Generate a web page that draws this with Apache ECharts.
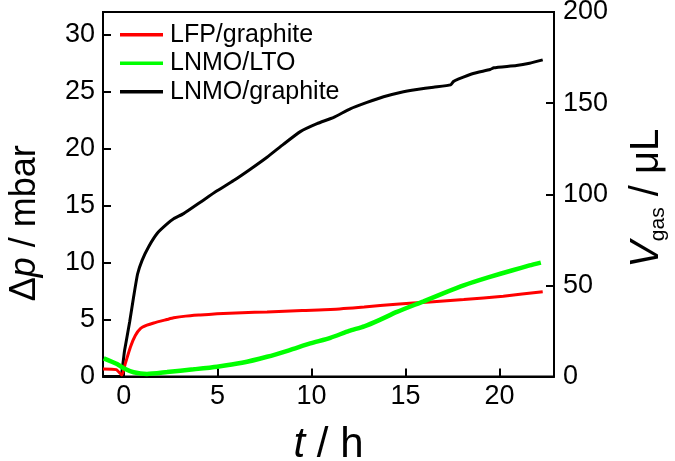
<!DOCTYPE html>
<html>
<head>
<meta charset="utf-8">
<script src="https://cdn.jsdelivr.net/npm/echarts@6/dist/echarts.min.js"></script>
<style>
  html, body { margin: 0; padding: 0; background: #fff; }
  #chart { width: 675px; height: 461px; }
</style>
</head>
<body>
<div id="chart"></div>
<script>
// ---- data ----
const seriesNames = ['LFP/graphite', 'LNMO/LTO', 'LNMO/graphite'];

const lfpTime  = [-1.1, -0.4, -0.1, 0.09, 0.36, 0.62, 0.89, 1.24, 1.6, 2.3, 2.66, 3.3, 4.08, 4.97, 6.3, 7.63, 9.5, 11.0, 12.8, 14.5, 16.3, 18.1, 20.2, 22.3];
const lfpDp    = [0.65, 0.6, 0.13, 1.15, 2.6, 3.6, 4.2, 4.5, 4.7, 5.0, 5.15, 5.3, 5.4, 5.5, 5.6, 5.67, 5.8, 5.88, 6.1, 6.35, 6.55, 6.75, 7.05, 7.45];

const ltoTime  = [-1.06, -0.35, 0, 0.53, 1.24, 2.31, 3.72, 4.97, 6.3, 7.63, 8.8, 9.93, 11.0, 12.0, 12.8, 13.6, 14.54, 15.96, 17.0, 18.09, 19.4, 20.7, 21.6, 22.2];
const ltoDp    = [1.59, 1.09, 0.72, 0.37, 0.22, 0.39, 0.63, 0.86, 1.2, 1.73, 2.3, 2.9, 3.4, 4.0, 4.4, 4.95, 5.67, 6.6, 7.3, 8.0, 8.7, 9.33, 9.75, 10.0];

const graphTime = [-1.1, -0.2, 0.05, 0.32, 0.53, 0.74, 0.98, 1.33, 1.8, 2.31, 2.66, 3.19, 4.08, 4.97, 5.85, 6.74, 7.63, 8.51, 9.4, 10.29, 11.18, 12.06, 12.95, 13.83, 14.72, 15.6, 16.49, 17.4, 17.55, 17.8, 18.6, 19.5, 19.7, 20.9, 21.6, 22.3];
const graphDp   = [0, 0, 2.3, 4.8, 7.0, 9.0, 10.2, 11.4, 12.6, 13.4, 13.85, 14.3, 15.3, 16.3, 17.2, 18.2, 19.25, 20.4, 21.5, 22.2, 22.75, 23.5, 24.06, 24.56, 24.94, 25.2, 25.4, 25.6, 25.9, 26.1, 26.6, 26.95, 27.1, 27.3, 27.5, 27.8];

const xTicks      = [0, 5, 10, 15, 20];
const leftTicks   = [0, 5, 10, 15, 20, 25, 30];
const rightTicks  = [0, 50, 100, 150, 200];

// ---- build the chart ----
const pairs = (xs, ys) => xs.map((x, i) => [x, ys[i]]);
const FONT = 'Liberation Sans, Arial, sans-serif';

const chart = echarts.init(document.getElementById('chart'), null, { renderer: 'canvas' });

const mkLine = () => ({ show: true, onZero: false, lineStyle: { color: '#000', width: 2 } });
const mkLabel = (margin, vals) => ({ color: '#000', fontSize: 27, fontFamily: FONT, margin: margin, customValues: vals });
const mkTick = (vals) => ({ show: true, inside: true, length: 8, customValues: vals, lineStyle: { color: '#000', width: 2 } });

chart.setOption({
  backgroundColor: '#fff',
  animation: false,
  grid: {
    left: 103, right: 121, top: 12, bottom: 84.5,
    containLabel: false, outerBoundsMode: 'none',
    show: true, borderColor: '#000', borderWidth: 2
  },
  legend: {
    orient: 'vertical',
    left: 115, top: 17,
    icon: 'rect',
    itemWidth: 43, itemHeight: 3.5, itemGap: 3,
    textStyle: { color: '#000', fontSize: 25, fontFamily: FONT, lineHeight: 25.5, padding: [0, 0, 0, 2] },
    data: seriesNames
  },
  xAxis: {
    type: 'value', min: -1.1, max: 22.9,
    axisLine: mkLine(),
    splitLine: { show: false },
    axisLabel: mkLabel(7, xTicks),
    axisTick: mkTick(xTicks),
    name: '{i|t}{n| / h}',
    nameLocation: 'middle', nameGap: 48,
    nameTextStyle: {
      rich: {
        i: { fontSize: 42, fontStyle: 'italic', fontFamily: FONT, color: '#000' },
        n: { fontSize: 42, fontFamily: FONT, color: '#000' }
      }
    }
  },
  yAxis: [
    {
      type: 'value', min: 0, max: 32, position: 'left',
      axisLine: mkLine(),
      splitLine: { show: false },
      axisLabel: mkLabel(8, leftTicks),
      axisTick: mkTick(leftTicks),
      name: '{n|Δ}{i|p}{n| / mbar}',
      nameLocation: 'middle', nameGap: 60, nameRotate: 90,
      nameTextStyle: {
        padding: [0, 58, 0, 0],
        rich: {
          i: { fontSize: 36, fontStyle: 'italic', fontFamily: FONT, color: '#000' },
          n: { fontSize: 36, fontFamily: FONT, color: '#000' }
        }
      }
    },
    {
      type: 'value', min: 0, max: 200, position: 'right',
      axisLine: mkLine(),
      splitLine: { show: false },
      axisLabel: mkLabel(9, rightTicks),
      axisTick: mkTick(rightTicks),
      name: '{i|V}{s|gas}{n| / μL}',
      nameLocation: 'middle', nameGap: 71, nameRotate: 90,
      nameTextStyle: {
        padding: [0, 8, 0, 0],
        rich: {
          i: { fontSize: 40, fontStyle: 'italic', fontFamily: FONT, color: '#000', lineHeight: 44 },
          s: { fontSize: 21, fontFamily: FONT, color: '#000', verticalAlign: 'bottom', lineHeight: 20 },
          n: { fontSize: 40, fontFamily: FONT, color: '#000', lineHeight: 44 }
        }
      }
    }
  ],
  series: [
    {
      name: seriesNames[0], type: 'line', yAxisIndex: 0, showSymbol: false, smooth: 0.2,
      data: pairs(lfpTime, lfpDp), z: 3,
      lineStyle: { color: '#ff0000', width: 3 }, itemStyle: { color: '#ff0000' }
    },
    {
      name: seriesNames[1], type: 'line', yAxisIndex: 0, showSymbol: false, smooth: 0.2,
      data: pairs(ltoTime, ltoDp), z: 4,
      lineStyle: { color: '#00ff00', width: 4.5 }, itemStyle: { color: '#00ff00' }
    },
    {
      name: seriesNames[2], type: 'line', yAxisIndex: 0, showSymbol: false, smooth: 0.15,
      data: pairs(graphTime, graphDp), z: 2,
      lineStyle: { color: '#000000', width: 3 }, itemStyle: { color: '#000000' }
    }
  ]
});
</script>
</body>
</html>
